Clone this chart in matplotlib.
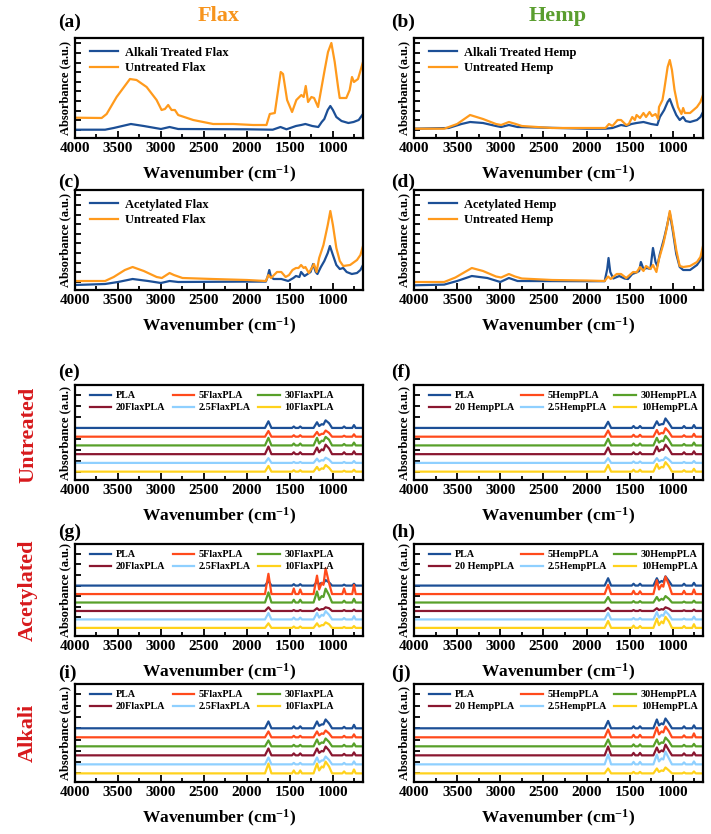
import numpy as np
import matplotlib
matplotlib.use('Agg')
import matplotlib.pyplot as plt
from matplotlib.ticker import MultipleLocator

plt.rcParams['font.family'] = ['Liberation Serif', 'DejaVu Serif']
plt.rcParams['font.weight'] = 'bold'
plt.rcParams['mathtext.fontset'] = 'custom'
plt.rcParams['mathtext.rm'] = 'Liberation Serif:bold'
plt.rcParams['mathtext.it'] = 'Liberation Serif:bold'
plt.rcParams['mathtext.bf'] = 'Liberation Serif:bold'

# ---- fibre spectra (a-d) : wavenumber / absorbance
a_unt_wn = [4000, 3690, 3632, 3516, 3361, 3284, 3167, 3051, 2993, 2954, 2916, 2877, 2838, 2800, 2625, 2393,
            2160, 1928, 1773, 1734, 1676, 1607, 1580, 1533, 1475, 1425, 1367, 1340, 1316, 1289, 1250, 1219,
            1173, 1146, 1096, 1057, 1018, 979, 940, 921, 844, 805, 778, 755, 708, 650]
a_unt_y = [20.3, 20, 24, 41, 59, 58, 51, 38, 28, 29, 33, 28, 28, 23, 18, 14,
           14, 13, 13, 24, 25, 66, 64, 38, 26, 38, 43, 41, 52, 36, 41, 40,
           31, 44, 68, 86, 95, 76, 51, 40, 40, 48, 61, 56, 59, 76]
a_alk_wn = [4000, 3650, 3550, 3350, 3200, 3000, 2900, 2800, 2000, 1700, 1610, 1540, 1430, 1370, 1320, 1240,
            1170, 1130, 1100, 1060, 1030, 1000, 960, 900, 820, 760, 700, 650]
a_alk_y = [8.3, 8.3, 10, 14, 12, 9, 11, 9, 8.7, 8.3, 11, 8.7, 12, 13, 14, 12,
           11, 16, 19, 28, 32, 28, 21, 17, 15, 16, 18, 24]

b_unt_wn = [4000, 3650, 3500, 3350, 3200, 3050, 2990, 2900, 2820, 2750, 2400, 2000, 1780, 1740, 1700, 1640,
            1600, 1540, 1510, 1470, 1440, 1420, 1380, 1340, 1310, 1270, 1240, 1200, 1170, 1160, 1120, 1100,
            1060, 1035, 1010, 980, 940, 900, 880, 860, 800, 720, 680, 650]
b_unt_y = [9.3, 9.3, 14, 23, 19, 14, 13, 16, 14, 12, 10, 10, 10, 14, 12, 18,
           18, 13, 14, 21, 18, 23, 20, 25, 21, 26, 22, 24, 19, 31, 38, 48,
           71, 78, 68, 48, 31, 24, 30, 25, 25, 31, 36, 43]
b_alk_wn = [4000, 3600, 3450, 3350, 3200, 3050, 2990, 2900, 2800, 2000, 1780, 1700, 1600, 1540, 1480, 1420,
            1340, 1250, 1180, 1150, 1100, 1060, 1035, 1000, 960, 920, 880, 850, 800, 720, 680, 650]
b_alk_y = [9.3, 10, 14, 16, 15, 12, 11, 13, 11, 9.3, 9.3, 10, 13, 12, 14, 15,
           16, 14, 13, 21, 28, 36, 39, 31, 23, 18, 21, 17, 16, 18, 21, 26]

c_unt_wn = [4000, 3650, 3550, 3420, 3330, 3200, 3050, 2990, 2900, 2850, 2750, 2400, 2000, 1780, 1750, 1720,
            1650, 1600, 1550, 1510, 1470, 1430, 1400, 1370, 1340, 1320, 1280, 1240, 1220, 1190, 1160, 1110,
            1060, 1030, 1000, 960, 920, 880, 800, 720, 680, 650]
c_unt_y = [9, 9, 13, 20, 23, 19, 13, 12, 17, 15, 12, 11, 10, 9, 15, 12,
           18, 18, 13, 15, 20, 22, 22, 25, 22, 23, 17, 23, 26, 18, 32, 45,
           65, 79, 65, 42, 29, 24, 25, 30, 35, 44]
c_ace_wn = [4000, 3650, 3500, 3330, 3150, 3000, 2900, 2800, 2000, 1780, 1760, 1740, 1720, 1690, 1600, 1520,
            1460, 1430, 1390, 1370, 1330, 1260, 1230, 1200, 1180, 1140, 1100, 1060, 1035, 1000, 960, 920,
            880, 840, 780, 720, 680, 650]
c_ace_y = [5, 6, 8, 11, 9, 7, 9, 8, 8.4, 8.4, 13, 20, 13, 11, 11, 9,
           12, 14, 13, 18, 14, 18, 26, 18, 16, 23, 29, 37, 44, 35, 25, 21,
           22, 18, 16, 17, 20, 25]

d_unt_wn = [4000, 3650, 3520, 3330, 3200, 3050, 2990, 2900, 2830, 2750, 2400, 2000, 1790, 1750, 1720, 1650,
            1600, 1540, 1500, 1460, 1420, 1380, 1340, 1310, 1260, 1230, 1190, 1160, 1110, 1070, 1035, 1000,
            960, 920, 880, 800, 720, 680, 650]
d_unt_y = [8, 8, 12.5, 22, 19, 13.5, 12.5, 16, 13.5, 11.5, 10, 9.5, 9, 13.5, 11, 16,
           16, 12, 15, 18, 17.6, 23, 19, 24, 21, 25, 18, 31, 46, 62, 79, 62,
           40, 24, 23, 24, 28, 33, 44]
d_ace_wn = [4000, 3650, 3500, 3330, 3150, 3000, 2900, 2800, 2000, 1790, 1760, 1745, 1725, 1690, 1620, 1560,
            1520, 1470, 1420, 1390, 1370, 1340, 1300, 1260, 1230, 1200, 1180, 1150, 1100, 1070, 1035, 1000,
            960, 920, 880, 800, 720, 680, 650]
d_ace_y = [4.7, 5.4, 9, 14, 12, 8, 12, 9, 8.8, 8.8, 21, 32, 18, 11.5, 14, 11.5,
           11, 16, 17.6, 19, 28, 21, 22, 21, 42, 28, 24, 36, 52, 63, 77, 59,
           36, 23, 20, 20, 25, 30, 38]

# ---- PLA composite spectra (e-j)
pla_names_flax = ['PLA', '5FlaxPLA', '30FlaxPLA', '20FlaxPLA', '2.5FlaxPLA', '10FlaxPLA']
pla_names_hemp = ['PLA', '5HempPLA', '30HempPLA', '20 HempPLA', '2.5HempPLA', '10HempPLA']
pla_offsets = [54.8, 45.6, 36.4, 27.2, 18.0, 8.8]
# band positions (peaks and the two valleys between them)
band_wn = [1750, 1455, 1380, 1185, 1160, 1130, 1110, 1085, 1045, 870, 755]
flat_wn = [4000, 1790, 1715, 1475, 1435, 1400, 1360, 1225, 1010, 890, 850, 775, 735, 650]

e_bands = [[7, 1.5, 1.5, 6, 2, 4, 3.5, 8, 5, 1.5, 3],
           [6, 1.5, 1.5, 5, 1.5, 3, 3, 6.5, 4, 1, 2.5],
           [8, 2, 2, 8, 2, 5, 4.5, 9, 6, 1.5, 3],
           [8, 2, 2, 7, 2, 5, 4, 10, 6, 2, 3],
           [5, 1, 1, 4.5, 1.5, 3, 2.5, 5.5, 3.5, 1, 2],
           [6, 1.5, 1.5, 5, 1.5, 3.5, 3, 7, 4, 1, 2]]
f_bands = [[6.5, 2, 2, 7, 3, 4, 4, 10, 5, 2, 3],
           [6.5, 2, 2, 7, 2.5, 4, 3.5, 9, 5, 1.5, 3],
           [7, 2, 2, 8, 3, 5, 4.5, 10, 5.5, 1.5, 3],
           [7, 2, 2, 8, 3, 5, 4.5, 10, 5.5, 2, 3],
           [5, 1.5, 1.5, 5, 2, 3, 3, 6, 3.5, 1, 2],
           [7, 2, 2, 8, 3, 5, 4.5, 10, 5.5, 1.5, 3]]
g_bands = [[5, 1.5, 1.5, 4, 1.5, 3, 2.5, 6, 3.5, 1, 2],
           [22, 6, 5, 20, 5, 12, 10, 28, 12, 6, 10],
           [11, 3, 3, 12, 3, 7, 6, 15, 8, 2, 4],
           [4, 1, 1, 3, 1, 2, 2, 4, 3, 1, 1.5],
           [7, 2, 2, 7, 2, 5, 4, 9, 5, 1.5, 3.5],
           [5, 1.5, 1.5, 5, 1.5, 3, 3, 6, 4, 1, 2]]
h_bands = [[8, 2, 2, 8, 3, 5, 4, 10, 5, 2, 3],
           [10, 3.5, 3, 15, 5, 10, 8, 19, 10, 3.5, 5],
           [6, 1.5, 1.5, 6, 2, 4, 3, 7, 4, 1, 2],
           [3.5, 1, 1, 3, 1, 2, 1.5, 4, 2.5, 0.8, 1.5],
           [7, 1.5, 1.5, 8, 2, 5, 4, 9, 5, 1, 3],
           [7.5, 2.5, 2, 10, 3, 7, 5, 12, 7, 2, 4]]
i_bands = [[7, 2, 2, 7, 2.5, 4, 4, 9, 5, 1.5, 3.5],
           [6, 1.5, 1.5, 6, 2, 4, 3.5, 7, 4, 1.5, 3],
           [6, 1.5, 1.5, 7, 2, 4, 3.5, 8, 4.5, 1.5, 3],
           [7, 2, 2, 7, 2.5, 4.5, 4, 9, 5, 1.5, 3],
           [7, 1.5, 1.5, 7, 2, 4, 4, 8, 4.5, 1.5, 3],
           [10, 3, 3, 10, 3, 7, 6, 12, 7, 2, 4]]
j_bands = [[7.5, 2, 2, 9, 3, 5, 4, 10, 5, 2, 3],
           [8, 2.5, 2.5, 10, 3, 6, 5, 11, 6, 2, 4],
           [7, 2, 2, 7, 2, 4, 3.5, 9, 5, 1.5, 2.5],
           [9, 2.5, 2.5, 8, 3, 5, 4, 11, 5, 2, 3],
           [10, 2.5, 2.5, 10, 3, 6, 5, 13, 6, 2, 3],
           [5, 1.5, 1.5, 5, 1.5, 3, 2.5, 6, 3, 1, 2]]

xticks = [4000, 3500, 3000, 2500, 2000, 1500, 1000]

BLUE = '#1c4f96'
ORANGE = '#ff9a1c'
pla_colors = ['#1c4f96', '#ff4a1c', '#58a02a', '#8a1730', '#8fd0ff', '#ffd21c']

W, H = 711, 834
fig = plt.figure(figsize=(W / 100, H / 100), dpi=100)

cols = [(75, 363), (414, 703)]
rows = [(38, 138), (190, 290), (385, 480), (544, 636), (684, 782)]


def make_ax(r, c):
    x0, x1 = cols[c]
    y0, y1 = rows[r]
    ax = fig.add_axes([x0 / W, 1 - y1 / H, (x1 - x0) / W, (y1 - y0) / H])
    ax.set_xlim(4000, 650)
    ax.set_ylim(0, 100)
    ax.set_xticks(xticks)
    ax.xaxis.set_minor_locator(MultipleLocator(250))
    ax.tick_params(axis='x', which='major', direction='in', length=5, width=1.3, labelsize=11, pad=3)
    ax.tick_params(axis='x', which='minor', direction='in', length=3, width=1.3)
    ax.tick_params(axis='y', which='major', direction='in', length=4, width=1.3, labelleft=False)
    for lbl in ax.get_xticklabels():
        lbl.set_fontweight('bold')
    for s in ax.spines.values():
        s.set_linewidth(1.6)
    ax.set_xlabel('Wavenumber (cm$^{-1}$)', fontsize=12.5, fontweight='bold', labelpad=6)
    ax.set_ylabel('Absorbance (a.u.)', fontsize=9, fontweight='bold', labelpad=3)
    return ax


def fibre_panel(r, c, wn1, y1, lab1, wn2, y2, lab2):
    ax = make_ax(r, c)
    ax.set_yticks(np.arange(8.3, 100, 9.6))
    ax.plot(wn1, y1, color=BLUE, lw=1.6, label=lab1)
    ax.plot(wn2, y2, color=ORANGE, lw=1.6, label=lab2)
    ax.legend(loc='upper left', frameon=False, fontsize=9, handlelength=2.3, handletextpad=0.5,
              labelspacing=0.25, borderaxespad=0.3, bbox_to_anchor=(0.02, 1.0))
    return ax


def pla_panel(r, c, bands, names):
    ax = make_ax(r, c)
    ax.set_yticks(np.arange(8.8, 100, 11.5))
    wn = sorted(flat_wn + band_wn, reverse=True)
    handles = []
    for k in range(6):
        vals = dict(zip(band_wn, bands[k]))
        y = [pla_offsets[k] + vals.get(w, 0) for w in wn]
        h, = ax.plot(wn, y, color=pla_colors[k], lw=1.6, label=names[k])
        handles.append(h)
    order = [0, 3, 1, 4, 2, 5]
    ax.legend([handles[i] for i in order], [names[i] for i in order], ncol=3, loc='upper left',
              frameon=False, fontsize=7.3, handlelength=2.1, handletextpad=0.5, columnspacing=0.7,
              labelspacing=0.3, borderaxespad=0.2, bbox_to_anchor=(0.03, 1.0))
    return ax


fibre_panel(0, 0, a_alk_wn, a_alk_y, 'Alkali Treated Flax', a_unt_wn, a_unt_y, 'Untreated Flax')
fibre_panel(0, 1, b_alk_wn, b_alk_y, 'Alkali Treated Hemp', b_unt_wn, b_unt_y, 'Untreated Hemp')
fibre_panel(1, 0, c_ace_wn, c_ace_y, 'Acetylated Flax', c_unt_wn, c_unt_y, 'Untreated Flax')
fibre_panel(1, 1, d_ace_wn, d_ace_y, 'Acetylated Hemp', d_unt_wn, d_unt_y, 'Untreated Hemp')
pla_panel(2, 0, e_bands, pla_names_flax)
pla_panel(2, 1, f_bands, pla_names_hemp)
pla_panel(3, 0, g_bands, pla_names_flax)
pla_panel(3, 1, h_bands, pla_names_hemp)
pla_panel(4, 0, i_bands, pla_names_flax)
pla_panel(4, 1, j_bands, pla_names_hemp)

# panel letters
letters = ['(a)', '(b)', '(c)', '(d)', '(e)', '(f)', '(g)', '(h)', '(i)', '(j)']
letter_y = [22, 182, 372, 532, 673]
for n, t in enumerate(letters):
    r, c = divmod(n, 2)
    x = 58 if c == 0 else 391
    fig.text(x / W, 1 - letter_y[r] / H, t, fontsize=14, fontweight='bold', ha='left', va='center')

fig.text(219 / W, 1 - 16 / H, 'Flax', fontsize=16, fontweight='bold', color='#f7941d', ha='center', va='center')
fig.text(558 / W, 1 - 16 / H, 'Hemp', fontsize=16, fontweight='bold', color='#5a9e2f', ha='center', va='center')

for t, yc in [('Untreated', 435), ('Acetylated', 590), ('Alkali', 733)]:
    fig.text(28 / W, 1 - yc / H, t, fontsize=16, fontweight='bold', color='#d7191c', rotation=90,
             ha='center', va='center')

fig.savefig('out.png', dpi=100)
